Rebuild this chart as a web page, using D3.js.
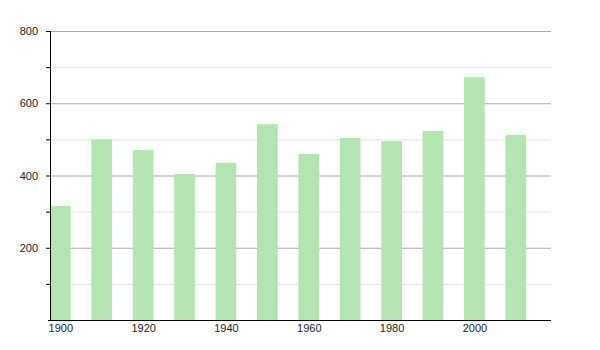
<!DOCTYPE html>
<html><head><meta charset="utf-8">
<script src="https://cdn.jsdelivr.net/npm/d3@7"></script>
<style>body{margin:0;background:#fff}svg{display:block}text{font-family:"Liberation Sans",Arial,sans-serif;font-size:11px;fill:#222}</style>
</head><body><svg id="c" width="600" height="350"></svg>
<script>
const years = [1900,1910,1920,1930,1940,1950,1960,1970,1980,1990,2000,2010];
const values = [316,500,470,404,435,542,460,504,495,523,672,512];
const yTicks = [200,400,600,800];
const yMinor = [100,300,500,700];
const xTicks = [1900,1920,1940,1960,1980,2000];

(function(){
const svg = d3.select("#c");
const mLeft=50,mRight=551,mTop=31,mBottom=320;
const x = d3.scaleLinear().domain([1897.5,2018.5]).range([mLeft,mRight]);
const y = d3.scaleLinear().domain([0,800]).range([mBottom,mTop]);
const bw = x(1905)-x(1900);

svg.append("g").selectAll("line").data(yMinor).join("line")
  .attr("x1",mLeft).attr("x2",mRight).attr("y1",d=>y(d)+0.5).attr("y2",d=>y(d)+0.5)
  .attr("stroke","#e2e2e2").attr("stroke-width",1);
svg.append("g").selectAll("line").data(yTicks).join("line")
  .attr("x1",mLeft).attr("x2",mRight).attr("y1",d=>y(d)+0.5).attr("y2",d=>y(d)+0.5)
  .attr("stroke","#aaaaaa").attr("stroke-width",1);

svg.append("g").selectAll("rect").data(years).join("rect")
  .attr("x",d=>x(d)-bw/2).attr("width",bw)
  .attr("y",(d,i)=>y(values[i])).attr("height",(d,i)=>mBottom-y(values[i]))
  .attr("fill","#b3e5b1");

const ya = d3.axisLeft(y).tickValues(yTicks.concat(yMinor)).tickSize(4)
  .tickFormat(d=>yTicks.includes(d)?d:"");
const gy = svg.append("g").attr("transform",`translate(${mLeft},0)`).call(ya);
gy.select(".domain").attr("stroke","#000").attr("d",`M0.5,${mTop}V${mBottom}`);
gy.selectAll(".tick line").attr("stroke","#000");
gy.selectAll(".tick text").attr("x",-12).style("font-family","Liberation Sans, Arial, sans-serif").style("font-size","11px").attr("fill","#222");

const xa = d3.axisBottom(x).tickValues(xTicks).tickSize(0).tickFormat(d3.format("d"));
const gx = svg.append("g").attr("transform",`translate(0,${mBottom})`).call(xa);
gx.select(".domain").attr("stroke","#000").attr("d",`M${mLeft-2},0.5H${mRight}`);
gx.selectAll(".tick text").attr("dy","0.85em").attr("y",3).style("font-family","Liberation Sans, Arial, sans-serif").style("font-size","11px").attr("fill","#222");
})();
</script></body></html>
